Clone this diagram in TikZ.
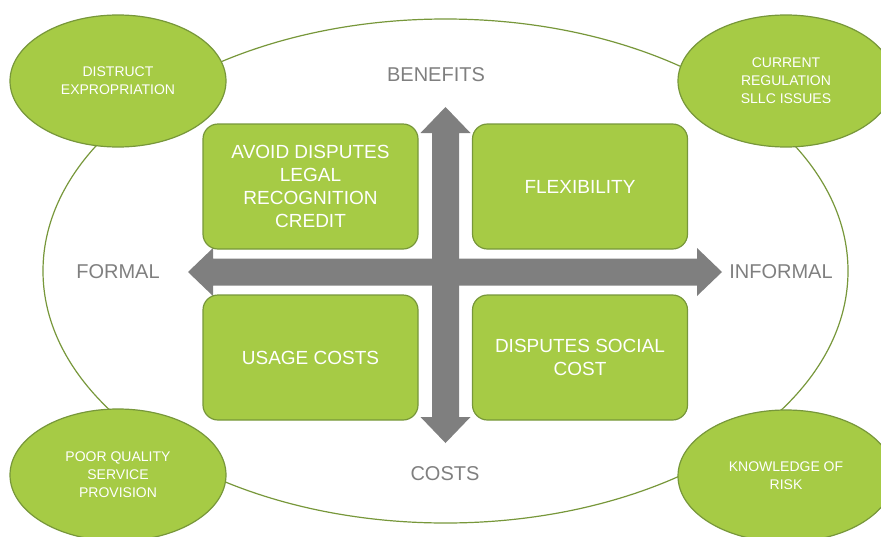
\documentclass[tikz,border=0pt]{standalone}
\usepackage{fontspec}
\setmainfont{Liberation Sans}
\usetikzlibrary{shapes.geometric}
\definecolor{leaf}{HTML}{A6CB45}
\definecolor{leafline}{HTML}{77973A}
\definecolor{axisgray}{HTML}{7F7F7F}

\begin{document}
\begin{tikzpicture}[x=1pt,y=-1pt]
\tikzstyle{every node}=[font=\fontsize{19}{23}\selectfont, align=center]
\tikzstyle{quad}=[draw=leafline, line width=1.2pt, fill=leaf, rounded corners=15pt, minimum width=215pt, minimum height=125pt, text=white, inner sep=0pt]
\tikzstyle{issue}=[ellipse, draw=leafline, line width=1.2pt, fill=leaf, minimum width=216pt, minimum height=132pt, text=white, inner sep=0pt, font=\fontsize{14}{18}\selectfont]
\tikzstyle{axislabel}=[text=axisgray, font=\fontsize{20}{24}\selectfont]

\useasboundingbox (0,0) rectangle (881,536);

\node[ellipse, draw=leafline, line width=1.2pt, minimum width=805pt, minimum height=504pt, inner sep=0pt] (frame) at (445.5,271) {};

\node[issue] (distrust) at (118,81) {DISTRUCT\\EXPROPRIATION};
\node[issue] (regulation) at (786,81) {CURRENT\\REGULATION\\SLLC ISSUES};
\node[issue] (quality) at (118,475) {POOR QUALITY\\SERVICE\\PROVISION};
\node[issue] (risk) at (786,476) {KNOWLEDGE OF\\RISK};

\fill[axisgray] (188,272) -- (213,248) -- (213,258.5) -- (697,258.5) -- (697,248) -- (722,272)
  -- (697,296) -- (697,285.5) -- (213,285.5) -- (213,296) -- cycle;
\fill[axisgray] (445.5,107) -- (470.5,133) -- (459,133) -- (459,417) -- (470.5,417) -- (445.5,443)
  -- (420.5,417) -- (432,417) -- (432,133) -- (420.5,133) -- cycle;

\node[quad] (avoid) at (310.5,186.5) {AVOID DISPUTES\\LEGAL\\RECOGNITION\\CREDIT};
\node[quad] (flex) at (580,186.5) {FLEXIBILITY};
\node[quad] (usage) at (310.5,357.5) {USAGE COSTS};
\node[quad] (social) at (580,357.5) {DISPUTES SOCIAL\\COST};

\node[axislabel] (benefits) at (436,75) {BENEFITS};
\node[axislabel] (costs) at (445,474) {COSTS};
\node[axislabel] (formal) at (118,272) {FORMAL};
\node[axislabel] (informal) at (781,272) {INFORMAL};

\end{tikzpicture}
\end{document}
